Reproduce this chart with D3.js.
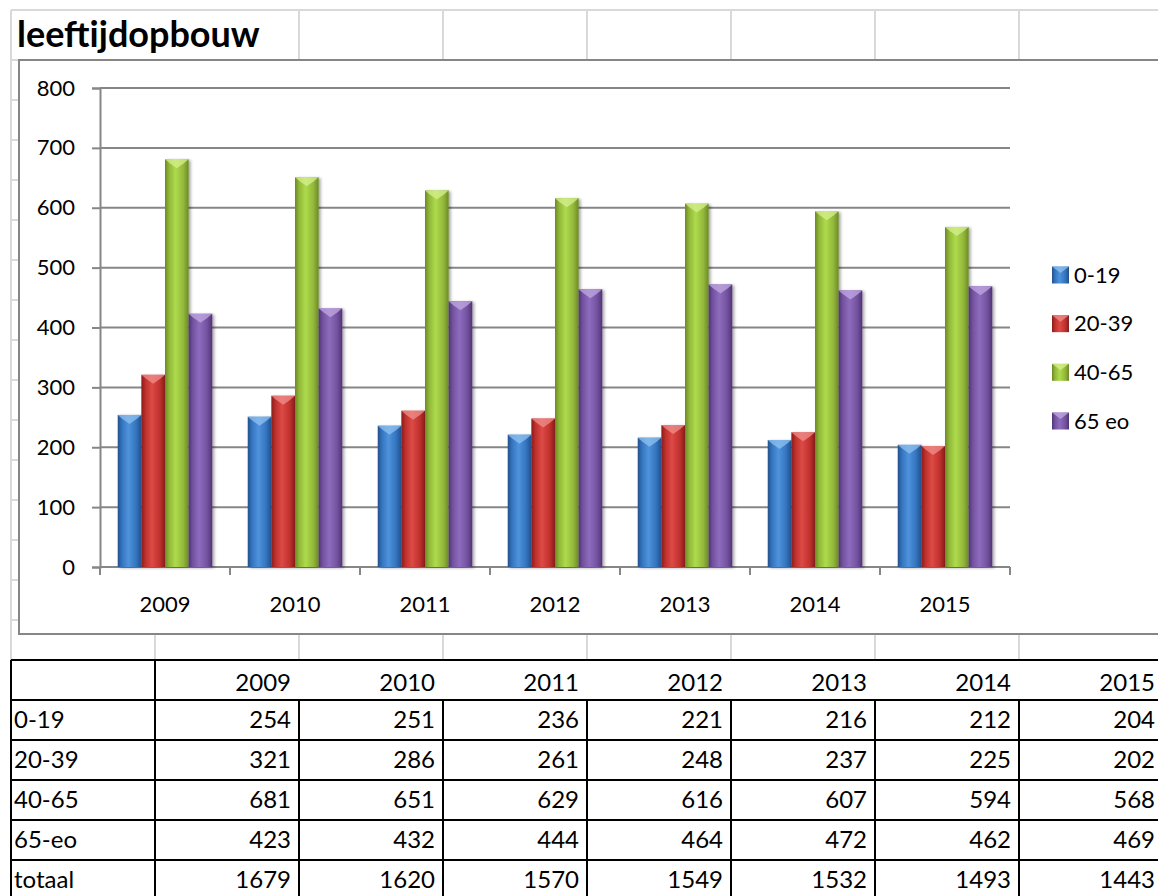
<!DOCTYPE html>
<html>
<head>
<meta charset="utf-8">
<script src="https://cdn.jsdelivr.net/npm/d3@7"></script>
<style>
  body { margin: 0; background: #fff; }
  svg { display: block; font-family: Lato, "Open Sans", sans-serif; }
</style>
</head>
<body>
<svg id="sheet" width="1158" height="896"></svg>
<script>
var years = ["2009", "2010", "2011", "2012", "2013", "2014", "2015"];
var seriesNames = ["0-19", "20-39", "40-65", "65 eo"];
var rowLabels = ["0-19", "20-39", "40-65", "65-eo", "totaal"];
var age0_19 = [254, 251, 236, 221, 216, 212, 204];
var age20_39 = [321, 286, 261, 248, 237, 225, 202];
var age40_65 = [681, 651, 629, 616, 607, 594, 568];
var age65_eo = [423, 432, 444, 464, 472, 462, 469];
var totaal = [1679, 1620, 1570, 1549, 1532, 1493, 1443];
var yTicks = [0, 100, 200, 300, 400, 500, 600, 700, 800];

var seriesValues = [age0_19, age20_39, age40_65, age65_eo];
var colors = [
  {dark: "#23508a", mid: "#3474bf", light: "#4f93dc", top: "#8fc1f0"},
  {dark: "#861d1b", mid: "#c0302d", light: "#dc4a45", top: "#f0908c"},
  {dark: "#6b8a25", mid: "#93b73a", light: "#addb4c", top: "#d6f08f"},
  {dark: "#4f3474", mid: "#7353a0", light: "#8e6cbd", top: "#c2a9e4"}
];

var svg = d3.select("#sheet");
var W = 1158, H = 896;
svg.append("rect").attr("width", W).attr("height", H).attr("fill", "#fff");

// spreadsheet grid
var colX = d3.scaleLinear().domain([0, 8]).range([11, 11 + 144 * 8]);
var grid = svg.append("g").attr("stroke", "#d9d9d9").attr("stroke-width", 2);
d3.range(8).forEach(function(i) {
  grid.append("line")
      .attr("x1", colX(i)).attr("x2", colX(i))
      .attr("y1", i == 1 ? 60 : 10).attr("y2", 660);
});
[10].concat(d3.range(60, 661, 40)).forEach(function(yy) {
  grid.append("line").attr("x1", 11).attr("x2", W).attr("y1", yy).attr("y2", yy);
});

svg.append("text")
   .text("leeftijdopbouw")
   .attr("x", 17)
   .attr("y", 47)
   .style("font", "bold 36px Lato, sans-serif")
   .attr("fill", "#000");

// chart object
svg.append("rect")
   .attr("x", 19).attr("y", 60)
   .attr("width", W - 19 + 20).attr("height", 574)
   .attr("fill", "#fff")
   .attr("stroke", "#868686")
   .attr("stroke-width", 2);

var defs = svg.append("defs");
colors.forEach(function(c, i) {
  var g = defs.append("linearGradient").attr("id", "bar" + i)
      .attr("x1", 0).attr("x2", 1).attr("y1", 0).attr("y2", 0);
  g.append("stop").attr("offset", 0).attr("stop-color", c.dark);
  g.append("stop").attr("offset", 0.18).attr("stop-color", c.mid);
  g.append("stop").attr("offset", 0.45).attr("stop-color", c.light);
  g.append("stop").attr("offset", 0.78).attr("stop-color", c.mid);
  g.append("stop").attr("offset", 1).attr("stop-color", c.dark);
});
var shadow = defs.append("filter").attr("id", "shadow")
    .attr("x", "-20%").attr("y", "-5%").attr("width", "150%").attr("height", "115%");
shadow.append("feDropShadow").attr("dx", 2).attr("dy", 1).attr("stdDeviation", 1.5)
      .attr("flood-color", "#000").attr("flood-opacity", 0.35);

var plotLeft = 100, plotRight = 1010, plotTop = 88, plotBottom = 567;
var y = d3.scaleLinear().domain([0, 800]).range([plotBottom, plotTop]);
var gap = 1.5 / 5.5;
var x0 = d3.scaleBand().domain(years).range([plotLeft, plotRight])
    .paddingInner(gap).paddingOuter(gap / 2);
var x1 = d3.scaleBand().domain(d3.range(4)).range([0, x0.bandwidth()]);

var plot = svg.append("g");
plot.selectAll("line.grid").data(yTicks).enter().append("line")
    .attr("class", "grid")
    .attr("x1", plotLeft).attr("x2", plotRight)
    .attr("y1", function(d) { return y(d); }).attr("y2", function(d) { return y(d); })
    .attr("stroke", "#868686").attr("stroke-width", 2);

var yAxis = plot.append("g")
    .attr("transform", "translate(" + plotLeft + ",0)")
    .call(d3.axisLeft(y).tickValues(yTicks).tickSize(8).tickPadding(17));
var xAxis = plot.append("g")
    .attr("transform", "translate(0," + plotBottom + ")")
    .call(d3.axisBottom(x0).tickSize(0).tickPadding(29));
[yAxis, xAxis].forEach(function(a) {
  a.selectAll("path.domain").attr("stroke", "#868686").attr("stroke-width", 2);
  a.selectAll("line").attr("stroke", "#868686").attr("stroke-width", 2);
  a.selectAll("text").attr("fill", "#000").style("font", "22px Lato, sans-serif");
});
xAxis.select("path.domain").attr("d", "M" + plotLeft + ",0H" + plotRight);
d3.range(years.length + 1).forEach(function(i) {
  var bx = plotLeft + i * x0.step();
  xAxis.append("line").attr("x1", bx).attr("x2", bx).attr("y1", 0).attr("y2", 8)
       .attr("stroke", "#868686").attr("stroke-width", 2);
});

var groups = plot.selectAll("g.year").data(years).enter().append("g")
    .attr("class", "year")
    .attr("transform", function(d) { return "translate(" + x0(d) + ",0)"; });
groups.each(function(yr, yi) {
  var g = d3.select(this);
  seriesValues.forEach(function(vals, si) {
    var bx = x1(si), bw = x1.bandwidth(), by = y(vals[yi]);
    g.append("rect")
     .attr("x", bx).attr("y", by)
     .attr("width", bw).attr("height", plotBottom - by)
     .attr("fill", "url(#bar" + si + ")")
     .attr("filter", "url(#shadow)");
    g.append("path")
     .attr("d", "M" + bx + "," + by + "L" + (bx + bw) + "," + by +
                "L" + (bx + bw * 0.8) + "," + (by + 4) + "L" + (bx + bw / 2) + "," + (by + 9) +
                "L" + (bx + bw * 0.2) + "," + (by + 4) + "Z")
     .attr("fill", colors[si].top)
     .attr("opacity", 0.75);
  });
});

// legend
var legendY = d3.scaleLinear().domain([0, 3]).range([275, 421]);
var legend = svg.append("g");
seriesNames.forEach(function(name, i) {
  var ly = legendY(i);
  legend.append("rect")
        .attr("x", 1052).attr("y", ly - 8.5)
        .attr("width", 17).attr("height", 17)
        .attr("fill", "url(#bar" + i + ")");
  legend.append("path")
        .attr("d", "M1052," + (ly - 8.5) + "L1069," + (ly - 8.5) + "L1060.5," + (ly - 2) + "Z")
        .attr("fill", colors[i].top).attr("opacity", 0.75);
  legend.append("text")
        .text(name)
        .attr("x", 1074).attr("y", ly)
        .attr("dy", "0.35em")
        .style("font", "22px Lato, sans-serif")
        .attr("fill", "#000");
});

// data table under the chart
var rowY = d3.scaleLinear().domain([0, 6]).range([660, 900]);
var tableRows = [[""].concat(years)];
var tableData = [age0_19, age20_39, age40_65, age65_eo, totaal];
rowLabels.forEach(function(lbl, i) { tableRows.push([lbl].concat(tableData[i])); });

var table = svg.append("g");
tableRows.forEach(function(row, ri) {
  row.forEach(function(cell, ci) {
    var isLabel = ci == 0;
    table.append("text")
         .text(cell)
         .attr("x", isLabel ? colX(0) + 3 : colX(ci + 1) - 8)
         .attr("y", (rowY(ri) + rowY(ri + 1)) / 2 + (ri == 0 ? 11 : 8))
         .attr("text-anchor", isLabel ? "start" : "end")
         .style("font", "24px Lato, sans-serif")
         .attr("fill", "#000");
  });
});
var tl = table.append("g").attr("stroke", "#000").attr("stroke-width", 2);
d3.range(6).forEach(function(ri) {
  tl.append("line").attr("x1", colX(0)).attr("x2", W)
    .attr("y1", rowY(ri)).attr("y2", rowY(ri));
});
d3.range(8).forEach(function(ci) {
  tl.append("line").attr("x1", colX(ci)).attr("x2", colX(ci))
    .attr("y1", ci < 2 ? rowY(0) : rowY(1)).attr("y2", H);
});
</script>
</body>
</html>
